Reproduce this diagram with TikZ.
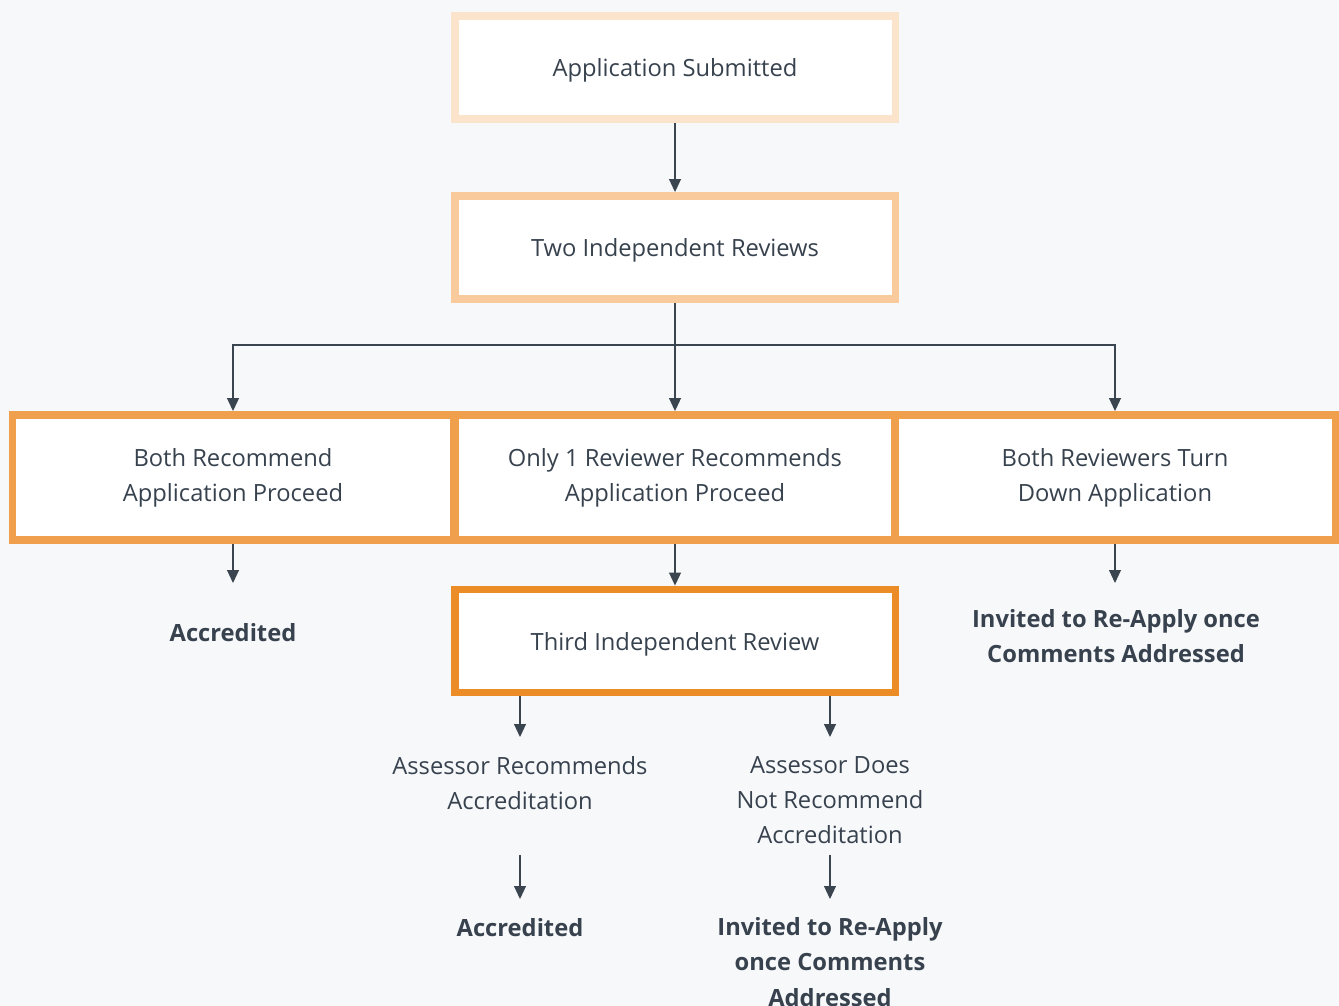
\documentclass[tikz,border=0pt]{standalone}
\usepackage{fontspec}
\setmainfont{Open Sans}
\usetikzlibrary{arrows.meta}
\definecolor{bgcol}{HTML}{F7F8FA}
\definecolor{txtcol}{HTML}{37424E}
\definecolor{linecol}{HTML}{3A4550}
\definecolor{orangeA}{HTML}{FCE4CC}
\definecolor{orangeB}{HTML}{F8CA9C}
\definecolor{orangeC}{HTML}{F0A04D}
\definecolor{orangeD}{HTML}{EC8C27}
\tikzset{
  basebox/.style={draw, fill=white, line width=4.5pt, minimum width=8.82cm,
    minimum height=2.06cm, align=center, text=txtcol,
    font=\fontsize{13.5}{20}\selectfont},
  box/.style={basebox, text depth=0pt},
  rowbox/.style={basebox, minimum width=8.82cm, minimum height=2.5cm},
  plain/.style={align=center, text=txtcol, font=\fontsize{13.5}{20}\selectfont},
  outcome/.style={plain, font=\fontsize{13.5}{20}\selectfont\bfseries},
  arr/.style={draw=linecol, line width=0.7pt, -{Triangle[length=7.4pt,width=6.8pt]}},
  link/.style={draw=linecol, line width=0.7pt}
}
\begin{document}
\begin{tikzpicture}[x=0.02cm, y=-0.02cm]
            \fill[bgcol] (0,0) rectangle (1339,1006);
            \useasboundingbox (0,0) rectangle (1339,1006);

            % boxes
            \node[box, draw=orangeA] (submitted) at (675,67.5) {Application Submitted};
            \node[box, draw=orangeB] (two) at (675,247.5) {Two Independent Reviews};
            \node[rowbox, draw=orangeC] (both) at (233,477.5) {Both Recommend\\Application Proceed};
            \node[rowbox, draw=orangeC] (only) at (675,477.5) {Only 1 Reviewer Recommends\\Application Proceed};
            \node[rowbox, draw=orangeC] (down) at (1115,477.5) {Both Reviewers Turn\\Down Application};
            \node[box, draw=orangeD] (third) at (675,641) {Third Independent Review};

            % texts
            \node[outcome] (acc1) at (233,633) {Accredited};
            \node[outcome] (invR) at (1116,636) {Invited to Re-Apply once\\Comments Addressed};
            \node[plain] (rec) at (520,783) {Assessor Recommends\\Accreditation};
            \node[plain] (does) at (830,800) {Assessor Does\\Not Recommend\\Accreditation};
            \node[outcome] (acc2) at (520,928) {Accredited};
            \node[outcome] (invB) at (830,962) {Invited to Re-Apply\\once Comments\\Addressed};

            % connectors
            \coordinate (split) at (675,345);
            \draw[arr] (submitted) -- (two);
            \draw[link] (two.south) -- (split);
            \draw[arr] (split) -| (both.north);
            \draw[arr] (split) -- (only.north);
            \draw[arr] (split) -| (down.north);
            \draw[arr, shorten >=1.0cm] (both.south) -- (acc1.center);
            \draw[arr] (only.south) -- (third.north);
            \draw[arr, shorten >=1.06cm] (down.south) -- (down.south |- invR.center);
            \draw[arr, shorten >=0.92cm] (third.south -| rec.center) -- (rec.center);
            \draw[arr, shorten >=1.26cm] (third.south -| does.center) -- (does.center);
            \draw[arr, shorten <=1.44cm, shorten >=0.58cm] (rec.center) -- (acc2.center);
            \draw[arr, shorten <=1.1cm, shorten >=1.26cm] (does.center) -- (invB.center);
        \end{tikzpicture}
\end{document}
